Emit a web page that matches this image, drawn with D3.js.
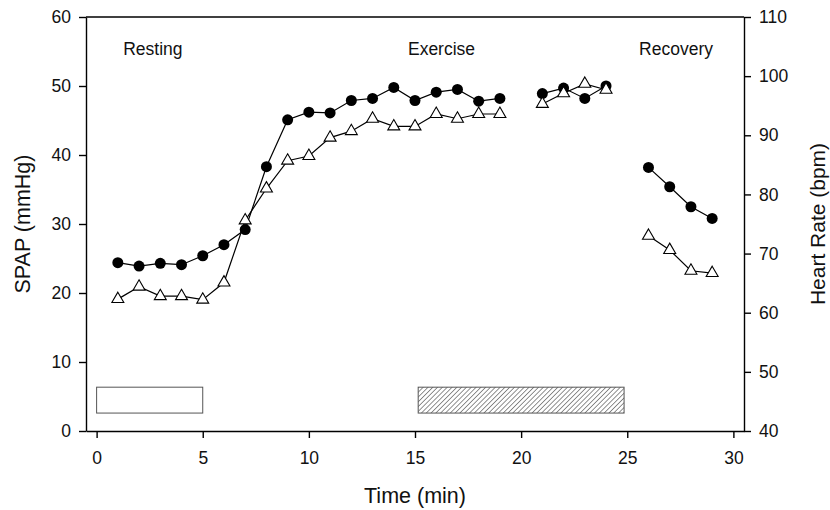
<!DOCTYPE html>
<html>
<head>
<meta charset="utf-8">
<script src="https://cdn.jsdelivr.net/npm/d3@7"></script>
<style>
  body { margin: 0; background: #fff; }
  svg { display: block; font-family: "Liberation Sans", Arial, sans-serif; }
  .axis path, .axis line { stroke: #000; stroke-width: 1.4px; }
  .axis text { font-size: 17.5px; fill: #111; }
</style>
</head>
<body>
<div id="chart"></div>
<script>
// time points (min); 20 and 25 are gaps between phases
let times = [1, 2, 3, 4, 5, 6, 7, 8, 9, 10, 11, 12, 13, 14, 15, 16, 17, 18, 19, 20,
  21, 22, 23, 24, 25, 26, 27, 28, 29];

// systolic pulmonary artery pressure, mmHg (filled circles, left axis)
let spap = [24.4, 23.9, 24.3, 24.1, 25.4, 27.0, 29.2, 38.3, 45.1, 46.2, 46.1, 47.9, 48.2,
  49.8, 47.9, 49.1, 49.5, 47.8, 48.2, null,
  48.9, 49.7, 48.2, 50.0, null,
  38.2, 35.4, 32.5, 30.8];

// heart rate, bpm (open triangles, right axis)
let heartRate = [62.3, 64.4, 62.8, 62.8, 62.2, 65.1, 75.6, 81.0, 85.7, 86.5, 89.6, 90.7, 92.8,
  91.5, 91.5, 93.6, 92.8, 93.6, 93.6, null,
  95.3, 97.1, 98.7, 97.7, null,
  73.0, 70.6, 67.1, 66.7];

let phaseNames = ["Resting", "Exercise", "Recovery"];
let phaseLabelTime = [2.65, 16.25, 27.3];

// protocol bars along the bottom: [start, end] in min
let restBar = [0, 5];
let exerciseBar = [15.15, 24.85];
let barSpan = [2.6, 6.35];

let xTicks = [0, 5, 10, 15, 20, 25, 30];
let leftTicks = [0, 10, 20, 30, 40, 50, 60];
let rightTicks = [40, 50, 60, 70, 80, 90, 100, 110];

let width = 830, height = 510;
let margin = {left: 86, right: 86, top: 17, bottom: 79};
let innerW = width - margin.left - margin.right;
let innerH = height - margin.top - margin.bottom;

let svg = d3.select("#chart").append("svg")
  .attr("width", width)
  .attr("height", height);

let defs = svg.append("defs");
let hatch = defs.append("pattern")
  .attr("id", "hatch")
  .attr("patternUnits", "userSpaceOnUse")
  .attr("width", 3.4)
  .attr("height", 3.4)
  .attr("patternTransform", "rotate(45)");
hatch.append("rect").attr("width", 3.4).attr("height", 3.4).attr("fill", "#fff");
hatch.append("line")
  .attr("x1", 0).attr("y1", 0).attr("x2", 0).attr("y2", 3.4)
  .attr("stroke", "#222").attr("stroke-width", 1);

let g = svg.append("g")
  .attr("transform", "translate(" + margin.left + "," + margin.top + ")");

let scaleX = d3.scaleLinear().domain([-0.5, 30.5]).range([0, innerW]);
let scaleLeft = d3.scaleLinear().domain([0, 60]).range([innerH, 0]);
let scaleRight = d3.scaleLinear().domain([40, 110]).range([innerH, 0]);

// axes
g.append("g")
  .attr("class", "axis")
  .attr("transform", "translate(0," + innerH + ")")
  .call(d3.axisBottom(scaleX).tickValues(xTicks).tickSize(7).tickSizeOuter(0).tickPadding(14));

g.append("g")
  .attr("class", "axis")
  .call(d3.axisLeft(scaleLeft).tickValues(leftTicks).tickSize(7).tickSizeOuter(0).tickPadding(8));

g.append("g")
  .attr("class", "axis")
  .attr("transform", "translate(" + innerW + ",0)")
  .call(d3.axisRight(scaleRight).tickValues(rightTicks).tickSize(7).tickSizeOuter(0).tickPadding(8));

// top border of the frame
g.append("line")
  .attr("x1", 0).attr("x2", innerW)
  .attr("y1", 0).attr("y2", 0)
  .attr("stroke", "#000").attr("stroke-width", 1.4);

// protocol bars
g.append("rect")
  .attr("x", scaleX(restBar[0]))
  .attr("width", scaleX(restBar[1]) - scaleX(restBar[0]))
  .attr("y", scaleLeft(barSpan[1]))
  .attr("height", scaleLeft(barSpan[0]) - scaleLeft(barSpan[1]))
  .attr("fill", "#fff")
  .attr("stroke", "#555")
  .attr("stroke-width", 1);

g.append("rect")
  .attr("x", scaleX(exerciseBar[0]))
  .attr("width", scaleX(exerciseBar[1]) - scaleX(exerciseBar[0]))
  .attr("y", scaleLeft(barSpan[1]))
  .attr("height", scaleLeft(barSpan[0]) - scaleLeft(barSpan[1]))
  .attr("fill", "url(#hatch)")
  .attr("stroke", "#555")
  .attr("stroke-width", 1);

// phase labels
g.selectAll(".phase")
  .data(phaseNames)
  .enter()
  .append("text")
  .attr("class", "phase")
  .attr("x", (d, i) => scaleX(phaseLabelTime[i]))
  .attr("y", 38)
  .attr("text-anchor", "middle")
  .style("font-size", "17.5px")
  .style("fill", "#111")
  .text(d => d);

// series
let spapPts = times.map((t, i) => ({t: t, v: spap[i]}));
let hrPts = times.map((t, i) => ({t: t, v: heartRate[i]}));

let lineLeft = d3.line()
  .defined(d => d.v !== null)
  .x(d => scaleX(d.t))
  .y(d => scaleLeft(d.v));

let lineRight = d3.line()
  .defined(d => d.v !== null)
  .x(d => scaleX(d.t))
  .y(d => scaleRight(d.v));

g.append("path")
  .datum(spapPts)
  .attr("d", lineLeft)
  .attr("fill", "none")
  .attr("stroke", "#000")
  .attr("stroke-width", 1.2);

g.append("path")
  .datum(hrPts)
  .attr("d", lineRight)
  .attr("fill", "none")
  .attr("stroke", "#000")
  .attr("stroke-width", 1.2);

g.selectAll(".dot")
  .data(spapPts.filter(d => d.v !== null))
  .enter()
  .append("circle")
  .attr("class", "dot")
  .attr("cx", d => scaleX(d.t))
  .attr("cy", d => scaleLeft(d.v))
  .attr("r", 5.5)
  .attr("fill", "#000");

let tri = d3.symbol().type(d3.symbolTriangle).size(62);
g.selectAll(".tri")
  .data(hrPts.filter(d => d.v !== null))
  .enter()
  .append("path")
  .attr("class", "tri")
  .attr("d", tri)
  .attr("transform", d => "translate(" + scaleX(d.t) + "," + scaleRight(d.v) + ")")
  .attr("fill", "#fff")
  .attr("stroke", "#000")
  .attr("stroke-width", 1.1);

// axis titles
svg.append("text")
  .text("Time (min)")
  .attr("text-anchor", "middle")
  .attr("x", margin.left + innerW / 2)
  .attr("y", 503)
  .style("font-size", "21.5px")
  .style("fill", "#111");

svg.append("text")
  .text("SPAP (mmHg)")
  .attr("text-anchor", "middle")
  .attr("transform", "translate(30," + (margin.top + innerH / 2) + ") rotate(-90)")
  .style("font-size", "21.5px")
  .style("fill", "#111");

svg.append("text")
  .text("Heart Rate (bpm)")
  .attr("text-anchor", "middle")
  .attr("transform", "translate(825," + (margin.top + innerH / 2) + ") rotate(-90)")
  .style("font-size", "21px")
  .style("fill", "#111");
</script>
</body>
</html>
